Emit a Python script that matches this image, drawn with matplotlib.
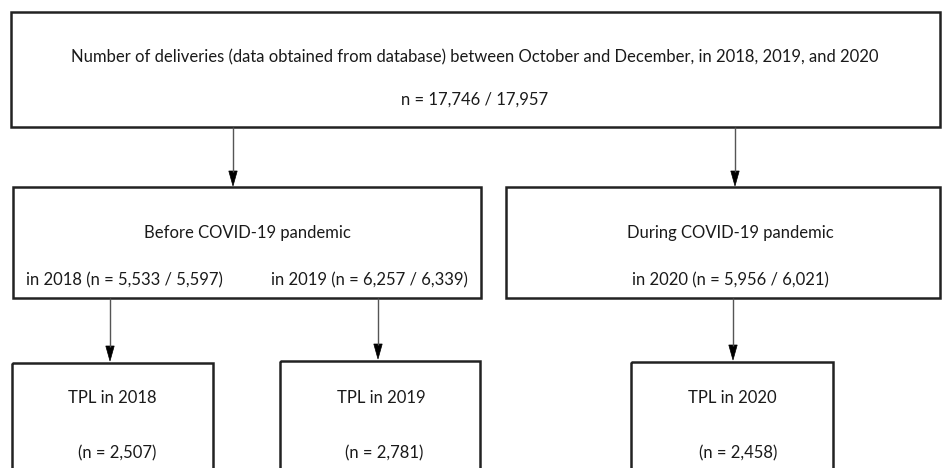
import matplotlib
matplotlib.use("Agg")
import matplotlib.pyplot as plt
from matplotlib.patches import Rectangle, Polygon

plt.rcParams['font.family'] = ['Lato', 'DejaVu Sans']

# ---- content ----
top_title = "Number of deliveries (data obtained from database) between October and December, in 2018, 2019, and 2020"
top_n = "n = 17,746 / 17,957"
before_title = "Before COVID-19 pandemic"
before_2018 = "in 2018 (n = 5,533 / 5,597)"
before_2019 = "in 2019 (n = 6,257 / 6,339)"
during_title = "During COVID-19 pandemic"
during_2020 = "in 2020 (n = 5,956 / 6,021)"
tpl_years = ["2018", "2019", "2020"]
tpl_counts = ["2,507", "2,781", "2,458"]

W, H = 943, 468
fig = plt.figure(figsize=(W / 100, H / 100), dpi=100)
ax = fig.add_axes([0, 0, 1, 1])
ax.set_xlim(0, W)
ax.set_ylim(H, 0)
ax.axis('off')

box_kw = dict(fill=False, edgecolor='#222222', linewidth=1.8)
fs = 12
tc = '#1a1a1a'

def box(x0, y0, x1, y1):
    ax.add_patch(Rectangle((x0, y0), x1 - x0, y1 - y0, **box_kw))

def txt(x, y, s):
    ax.text(x, y, s, ha='center', va='center', fontsize=fs, color=tc)

def arrow(x, y0, y1, hl=15, hw=4.2):
    ax.plot([x, x], [y0, y1 - hl + 1], color='#555555', lw=1.0, solid_capstyle='butt')
    ax.add_patch(Polygon([(x - hw, y1 - hl), (x + hw, y1 - hl), (x, y1)],
                         closed=True, facecolor='black', edgecolor='black', lw=0.5))

# top box
box(11, 12, 940, 127)
txt(475, 57, top_title)
txt(475, 100, top_n)

arrow(233, 127, 186)
arrow(735, 127, 186)

# middle boxes
box(13, 187, 481, 298)
txt(247, 233, before_title)
txt(124, 280, before_2018)
txt(369, 280, before_2019)

box(506, 187, 940, 298)
txt(730, 233, during_title)
txt(730, 280, during_2020)

arrow(110, 298, 361)
arrow(378, 298, 359)
arrow(733, 298, 360)

# bottom boxes
tpl_boxes = [(12, 363, 213), (280, 361, 480), (631, 362, 833)]
tpl_title_x = [112, 381, 732]
tpl_n_x = [117, 384, 738]
for (x0, y0, x1), yr, cnt, tx, nx in zip(tpl_boxes, tpl_years, tpl_counts, tpl_title_x, tpl_n_x):
    box(x0, y0, x1, H + 10)
    txt(tx, 398, f"TPL in {yr}")
    txt(nx, 453, f"(n = {cnt})")

fig.savefig('out.png', dpi=100, facecolor='white')
